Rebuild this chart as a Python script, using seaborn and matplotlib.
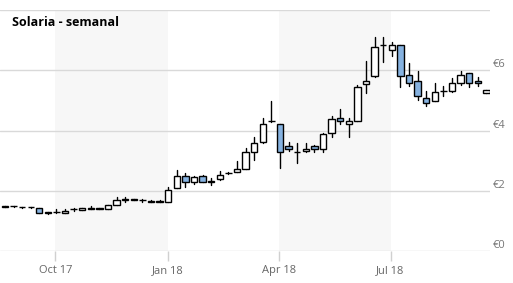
import numpy as np
import pandas as pd
import matplotlib
matplotlib.use("Agg")
import matplotlib.pyplot as plt
import matplotlib.dates as mdates
import seaborn as sns

# ---- data (weekly OHLC, EUR) ----
start_week = "2017-08-21"
opens = [1.47, 1.48, 1.45, 1.45, 1.42, 1.26, 1.28, 1.26, 1.38, 1.36,
         1.41, 1.41, 1.39, 1.52, 1.69, 1.70, 1.68, 1.64, 1.64, 1.64,
         2.10, 2.50, 2.30, 2.50, 2.32, 2.40, 2.58, 2.63, 2.73, 3.27,
         3.63, 4.30, 4.20, 3.50, 3.30, 3.33, 3.47, 3.40, 3.93, 4.43,
         4.23, 4.33, 5.53, 5.80, 6.83, 6.67, 6.83, 5.83, 5.63, 5.07,
         4.97, 5.30, 5.30, 5.57, 5.90, 5.63, 5.23]
closes = [1.47, 1.48, 1.45, 1.45, 1.26, 1.26, 1.28, 1.34, 1.38, 1.42,
          1.41, 1.41, 1.53, 1.70, 1.69, 1.70, 1.68, 1.64, 1.64, 2.03,
          2.50, 2.30, 2.47, 2.30, 2.30, 2.53, 2.60, 2.73, 3.27, 3.60,
          4.23, 4.32, 3.30, 3.40, 3.28, 3.40, 3.37, 3.87, 4.37, 4.30,
          4.30, 5.43, 5.63, 6.77, 6.85, 6.83, 5.80, 5.57, 5.13, 4.90,
          5.27, 5.32, 5.57, 5.83, 5.57, 5.57, 5.33]
highs = [1.48, 1.50, 1.46, 1.46, 1.44, 1.30, 1.39, 1.38, 1.43, 1.43,
         1.48, 1.42, 1.54, 1.79, 1.79, 1.71, 1.72, 1.69, 1.68, 2.11,
         2.70, 2.60, 2.50, 2.53, 2.43, 2.67, 2.63, 3.00, 3.43, 3.80,
         4.43, 4.97, 4.20, 3.63, 3.60, 3.60, 3.53, 3.93, 4.47, 4.73,
         4.40, 5.50, 6.30, 7.10, 7.10, 6.93, 6.83, 6.23, 5.97, 5.30,
         5.57, 5.47, 5.73, 5.97, 5.90, 5.77, 5.33]
lows = [1.46, 1.47, 1.44, 1.44, 1.25, 1.22, 1.26, 1.25, 1.34, 1.35,
        1.38, 1.40, 1.38, 1.52, 1.63, 1.69, 1.64, 1.61, 1.62, 1.64,
        2.10, 2.13, 2.23, 2.28, 2.20, 2.37, 2.56, 2.62, 2.73, 3.03,
        3.60, 4.27, 2.77, 3.33, 2.93, 3.30, 3.27, 3.27, 3.80, 4.23,
        3.80, 4.33, 5.23, 5.77, 6.27, 6.47, 5.43, 5.47, 5.00, 4.80,
        4.97, 5.13, 5.27, 5.50, 5.43, 5.47, 5.23]
y_ticks = [0, 2, 4, 6]
y_labels = ["€0", "€2", "€4", "€6"]
x_tick_dates = ["2017-10-01", "2018-01-01", "2018-04-01", "2018-07-01"]
x_tick_labels = ["Oct 17", "Jan 18", "Apr 18", "Jul 18"]
title = "Solaria - semanal"

dates = pd.date_range(start_week, periods=len(opens), freq="7D")
df = pd.DataFrame({"date": dates, "open": opens, "close": closes,
                   "high": highs, "low": lows})
df["x"] = mdates.date2num(df["date"])

# long format for wicks
wick = pd.concat([
    pd.DataFrame({"x": df["x"], "price": df["low"], "candle": np.arange(len(df))}),
    pd.DataFrame({"x": df["x"], "price": df["high"], "candle": np.arange(len(df))}),
]).sort_values(["candle", "price"])

sns.set_theme(style="white")
plt.rcParams["font.family"] = ["Open Sans", "DejaVu Sans"]

fig = plt.figure(figsize=(5.13, 2.83), dpi=100)
ax = fig.add_axes([0.0, 32 / 283, 490 / 513, 241 / 283])

xmin = mdates.date2num(pd.Timestamp("2017-08-17"))
xmax = mdates.date2num(pd.Timestamp("2018-09-20"))
ax.set_xlim(xmin, xmax)
ax.set_ylim(0, 8)

# shaded quarters
band_col = "#f7f7f7"
for a, b in [("2017-10-01", "2018-01-01"), ("2018-04-01", "2018-07-01")]:
    ax.axvspan(mdates.date2num(pd.Timestamp(a)), mdates.date2num(pd.Timestamp(b)),
               color=band_col, zorder=0, lw=0)

# gridlines
for v in [0, 2, 4, 6, 8]:
    ax.axhline(v, color="#d9d9d9", lw=1, zorder=1)

# wicks via seaborn
sns.lineplot(data=wick, x="x", y="price", units="candle", estimator=None,
             color="black", lw=1, ax=ax, zorder=2, legend=False)

# bodies
bw = 5.2
up = df["close"] >= df["open"]
bottom = np.minimum(df["open"], df["close"])
height = np.maximum(np.abs(df["close"] - df["open"]), 0.02)
colors = np.where(up, "white", "#86b2e0")
ax.bar(df["x"], height, bottom=bottom, width=bw, color=colors,
       edgecolor="black", linewidth=1, zorder=3)

for s in ax.spines.values():
    s.set_visible(False)
ax.set_xlabel("")
ax.set_ylabel("")
ax.set_yticks([])

tick_x = [mdates.date2num(pd.Timestamp(d)) for d in x_tick_dates]
ax.set_xticks(tick_x)
ax.set_xticklabels(x_tick_labels, fontsize=8, color="#666666")
ax.tick_params(axis="x", length=7, width=1, color="#d0d0d0", pad=3, bottom=True)

for v, lab in zip(y_ticks, y_labels):
    ax.text(1.0 + 3 / 490, v, lab, transform=ax.get_yaxis_transform(),
            ha="left", va="bottom", fontsize=8, color="#777777")

ax.text(12 / 490, 1 - 12 / 241, title, transform=ax.transAxes, ha="left",
        va="center", fontsize=9, fontweight="bold", color="black")

fig.savefig("out.png", dpi=100)
